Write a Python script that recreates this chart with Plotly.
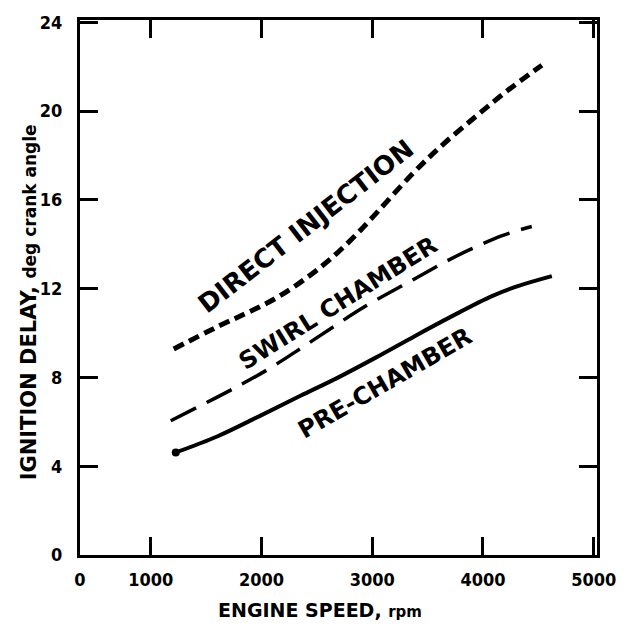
import plotly.graph_objects as go

# Engine speed (rpm) and ignition delay (deg crank angle) for each chamber type
di_speed = [1207, 1613, 1883, 2144, 2414, 2649, 2829, 2982, 3369, 3640, 3946, 4216, 4532]
di_delay = [9.28, 10.31, 10.94, 11.61, 12.51, 13.45, 14.3, 15.1, 17.2, 18.5, 19.8, 20.9, 22.06]

swirl_speed = [1180, 1748, 2054, 2306, 2640, 2937, 3369, 3676, 3900, 4180, 4441]
swirl_delay = [6.05, 7.5, 8.35, 9.15, 10.25, 11.2, 12.4, 13.25, 13.8, 14.4, 14.8]

pre_speed = [1225, 1604, 1991, 2351, 2685, 3027, 3387, 3721, 4081, 4315, 4622]
pre_delay = [4.62, 5.35, 6.28, 7.17, 7.98, 8.88, 9.87, 10.76, 11.66, 12.11, 12.56]

x_tick_vals = [360, 1000, 2000, 3000, 4000, 5000]
x_tick_text = ["0", "1000", "2000", "3000", "4000", "5000"]
y_tick_vals = [0, 4, 8, 12, 16, 20, 24]

FONT = "DejaVu Sans"
TICK_FONT = "DejaVu Sans Condensed"

fig = go.Figure()
fig.add_trace(go.Scatter(x=di_speed, y=di_delay, mode="lines",
                         line=dict(color="black", width=5, dash="11px,6px", shape="spline")))
fig.add_trace(go.Scatter(x=swirl_speed, y=swirl_delay, mode="lines",
                         line=dict(color="black", width=3.5, dash="28px,12px", shape="spline")))
fig.add_trace(go.Scatter(x=pre_speed, y=pre_delay, mode="lines",
                         line=dict(color="black", width=4, shape="spline")))
fig.add_trace(go.Scatter(x=[pre_speed[0]], y=[pre_delay[0]], mode="markers",
                         marker=dict(color="black", size=8)))

def label_font(size):
    return dict(family=FONT, size=size, color="black", weight="bold")

fig.add_annotation(x=2405, y=14.8, xref="x", yref="y", text="DIRECT INJECTION",
                   textangle=-37.8, showarrow=False, font=label_font(26))
fig.add_annotation(x=2694, y=11.35, xref="x", yref="y", text="SWIRL CHAMBER",
                   textangle=-32, showarrow=False, font=label_font(24))
fig.add_annotation(x=3117, y=7.76, xref="x", yref="y", text="PRE-CHAMBER",
                   textangle=-30, showarrow=False, font=label_font(24))

# Axis titles
fig.add_annotation(x=0.464, y=-0.102, xref="paper", yref="paper",
                   xanchor="center", yanchor="middle",
                   text="ENGINE SPEED, <span style='font-size:15px'>rpm</span>",
                   showarrow=False, font=dict(family=FONT, size=19, color="black", weight="bold"))
fig.add_annotation(x=-0.097, y=0.472, xref="paper", yref="paper",
                   xanchor="center", yanchor="middle",
                   text="IGNITION DELAY, <span style='font-size:17px'>deg crank angle</span>",
                   textangle=-90, showarrow=False,
                   font=dict(family=FONT, size=21, color="black", weight="bold"))

axis_common = dict(showline=True, linecolor="black", linewidth=3, mirror="ticks",
                   ticks="inside", ticklen=18, tickwidth=2.5, tickcolor="black",
                   showgrid=False, zeroline=False,
                   tickfont=dict(family=TICK_FONT, size=18, color="black", weight="bold"))

fig.update_xaxes(range=[360, 5030], tickvals=x_tick_vals, ticktext=x_tick_text,
                 ticklabelstandoff=6, **axis_common)
fig.update_yaxes(range=[0, 24.1], tickvals=y_tick_vals,
                 ticklabelstandoff=11, **axis_common)

fig.update_layout(width=628, height=626, showlegend=False,
                  paper_bgcolor="white", plot_bgcolor="white",
                  margin=dict(l=80, r=31, t=17, b=71))

fig.write_html("out.html")
